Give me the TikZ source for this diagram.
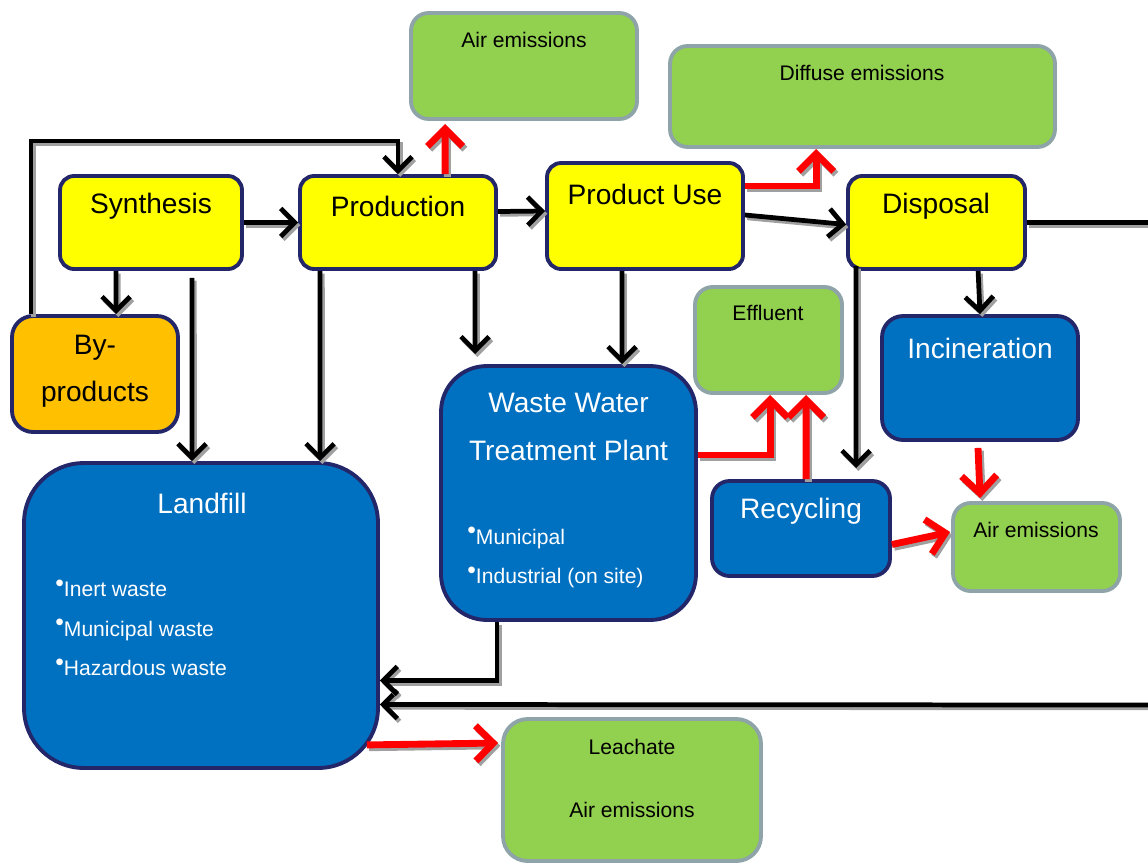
\documentclass[tikz,border=0pt]{standalone}
\usepackage{fontspec}
\setmainfont{Liberation Sans}
\usetikzlibrary{arrows.meta,calc}

\definecolor{procyellow}{HTML}{FFFF00}
\definecolor{byorange}{HTML}{FFC000}
\definecolor{treatblue}{HTML}{0070C0}
\definecolor{emisgreen}{HTML}{92D050}
\definecolor{emisgray}{HTML}{8EA4A8}
\definecolor{boxnavy}{HTML}{23276A}
\definecolor{arrshadow}{HTML}{A0A0A0}

\newcommand{\wbul}{\raisebox{0.5ex}{\fontsize{14}{14}\selectfont\textbullet}}
% flow with its grey drop shadow
\newcommand{\flow}[2]{%
  \draw[#1, draw=arrshadow, transform canvas={shift={(1.3pt,-1.6pt)}}] #2;
  \draw[#1] #2;}

\tikzset{
  box/.style={draw=boxnavy, line width=2.2pt, rounded corners=8pt, inner sep=0pt},
  procbox/.style={box, fill=procyellow},
  byprodbox/.style={box, fill=byorange},
  treatbox/.style={box, fill=treatblue},
  emisbox/.style={box, draw=emisgray, fill=emisgreen, rounded corners=10pt},
  bigtxt/.style={font=\fontsize{16}{27}\selectfont, align=center, inner sep=0pt},
  smalltxt/.style={font=\fontsize{12}{22.5}\selectfont, inner sep=0pt},
  blk/.style={draw=black, line width=2.7pt, -{Straight Barb[length=8pt,width=16pt]}},
  redarr/.style={draw=red, line width=3.9pt, -{Straight Barb[length=10pt,width=20pt]}},
}

\begin{document}
\begin{tikzpicture}[x=0.02cm, y=-0.02cm]
  \useasboundingbox (0,0) rectangle (1148,862);

  % process chain
  \node[procbox, minimum width=3.64cm, minimum height=1.86cm] (syn)  at (151,222.5) {};
  \node[procbox, minimum width=3.92cm, minimum height=1.86cm] (prod) at (398,222.5) {};
  \node[procbox, minimum width=3.92cm, minimum height=2.12cm] (use)  at (645,216)   {};
  \node[procbox, minimum width=3.54cm, minimum height=1.86cm] (disp) at (936.5,222.5) {};
  \node[byprodbox, minimum width=3.32cm, minimum height=2.32cm, rounded corners=12pt] (byp) at (95,374) {};

  % emissions
  \node[emisbox, minimum width=4.52cm, minimum height=2.12cm] (airtop) at (524,66)    {};
  \node[emisbox, minimum width=7.70cm, minimum height=2.02cm] (diff)   at (862.5,96.5) {};
  \node[emisbox, minimum width=2.94cm, minimum height=2.12cm] (eff)    at (768.5,340) {};
  \node[emisbox, minimum width=3.34cm, minimum height=1.76cm] (airr)   at (1036.5,547) {};
  \node[emisbox, minimum width=5.16cm, minimum height=2.84cm, rounded corners=14pt] (leach) at (632,790) {};

  % treatment
  \node[treatbox, minimum width=3.92cm, minimum height=2.48cm, rounded corners=12pt] (inc)  at (980,378)   {};
  \node[treatbox, minimum width=5.10cm, minimum height=5.08cm, rounded corners=26pt] (wwtp) at (568.5,493) {};
  \node[treatbox, minimum width=3.56cm, minimum height=1.90cm, rounded corners=10pt] (rec)  at (801,528.5) {};
  \node[treatbox, minimum width=7.08cm, minimum height=6.10cm, rounded corners=34pt] (land) at (201,615.5) {};

  % labels
  \node[bigtxt] (syn-t)  at (151,206) {Synthesis};
  \node[bigtxt] (prod-t) at (398,206) {Production};
  \node[bigtxt] (use-t)  at (645,194) {Product Use};
  \node[bigtxt] (disp-t) at (936,206) {Disposal};
  \node[bigtxt] (byp-t)  at (95,371) {By-\\products};
  \node[smalltxt] (airtop-t) at (524,40)  {Air emissions};
  \node[smalltxt] (diff-t)   at (862,73)  {Diffuse emissions};
  \node[smalltxt] (eff-t)    at (768,313) {Effluent};
  \node[smalltxt] (airr-t)   at (1036,530) {Air emissions};
  \node[smalltxt] (leach-t)  at (632,747) {Leachate};
  \node[smalltxt] (leach-a)  at (632,810) {Air emissions};
  \node[bigtxt, text=white] (inc-t)  at (980,348) {Incineration};
  \node[bigtxt, text=white] (rec-t)  at (801,511) {Recycling};
  \node[bigtxt, text=white] (wwtp-t) at (568.5,427) {Waste Water\\Treatment Plant};
  \node[smalltxt, text=white, align=left, anchor=west] (wwtp-l) at (467,557.5)
    {\wbul Municipal\\\wbul Industrial (on site)};
  \node[bigtxt, text=white] (land-t) at (202,503) {Landfill};
  \node[smalltxt, text=white, align=left, anchor=west] (land-l) at (55,628)
    {\wbul Inert waste\\\wbul Municipal waste\\\wbul Hazardous waste};

  % free ends at the right edge
  \coordinate (edge1) at (1150,222.5);
  \coordinate (edge2) at (1150,705);

  % black flows
  \flow{blk}{($(byp.north west)+(21,0)$) |- ($(prod.north)+(0,-33)$) -- (prod.north)}
  \flow{blk}{(syn.east) -- (prod.west)}
  \flow{blk}{($(syn.south west)+(58,0)$) -- ($(byp.north west)+(106,0)$)}
  \flow{blk}{($(syn.south west)+(134,7)$) -- ($(land.north west)+(170,0)$)}
  \flow{blk}{($(prod.south west)+(22,0)$) -- ($(land.north west)+(298,0)$)}
  \flow{blk}{($(prod.south west)+(177,0)$) -- ($(wwtp.north west)+(36,-10)$)}
  \flow{blk}{($(prod.east)+(0,-11)$) -- ($(use.west)+(0,-5)$)}
  \flow{blk}{($(use.south west)+(77,0)$) -- ($(wwtp.north west)+(183,0)$)}
  \flow{blk}{($(use.east)+(0,-1)$) -- ($(disp.west)+(0,2)$)}
  \flow{blk}{($(disp.south west)+(132,0)$) -- (inc.north)}
  \flow{blk}{($(disp.south west)+(10,-5)$) -- ($(rec.north west)+(146,-11)$)}
  \flow{blk, -}{(disp.east) -- (edge1)}
  \flow{blk}{(edge2) -- ($(land.east)+(0,89)$)}
  \flow{blk}{($(wwtp.south west)+(58,0)$) |- ($(land.east)+(0,65)$)}

  % red flows (releases)
  \flow{redarr}{($(prod.north west)+(147,0)$) -- ($(airtop.south west)+(36,3)$)}
  \flow{redarr}{($(use.east)+(0,-30)$) -| ($(diff.south west)+(148,0)$)}
  \flow{redarr}{($(wwtp.east)+(0,-38)$) -| ($(eff.south west)+(77,0)$)}
  \flow{redarr}{($(rec.north west)+(96,0)$) -- ($(eff.south west)+(113,0)$)}
  \flow{redarr}{($(inc.south)+(-2,6)$) -- ($(airr.north west)+(29,-3)$)}
  \flow{redarr}{($(rec.east)+(0,16)$) -- ($(airr.west)+(-1,-15)$)}
  \flow{redarr}{($(land.south east)+(-13,-25)$) -- ($(leach.west)+(-3,-47)$)}

\end{tikzpicture}
\end{document}
